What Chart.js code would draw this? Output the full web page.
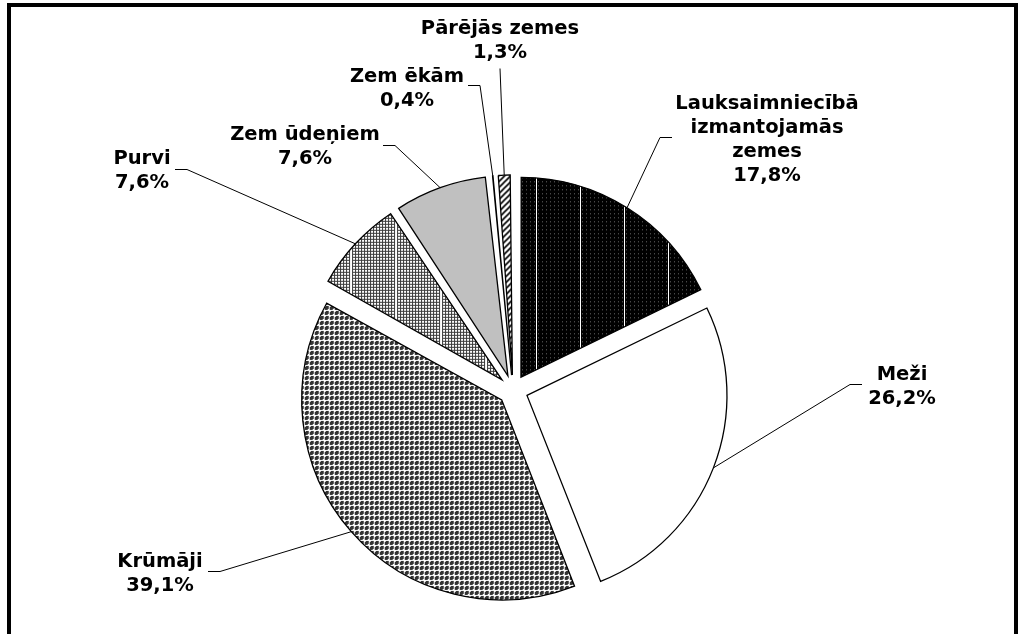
<!DOCTYPE html>
<html>
<head>
<meta charset="utf-8">
<script src="https://cdn.jsdelivr.net/npm/chart.js@4/dist/chart.umd.min.js"></script>
<style>
  body { margin: 0; background: #fff; }
  #wrap { position: relative; width: 1025px; height: 634px; overflow: hidden; }
  #frame { position: absolute; left: 7px; top: 3px; width: 1011px; height: 700px; border: 4px solid #000; box-sizing: border-box; }
  #pie { position: absolute; left: 0; top: 0; }
</style>
</head>
<body>
<div id="wrap">
  <div id="frame"></div>
  <canvas id="pie" width="1025" height="634"></canvas>
</div>
<script>
// kategorijas (rindās sadalīti nosaukumi)
var categories = [
  ['Lauksaimniecībā', 'izmantojamās', 'zemes'],
  ['Meži'],
  ['Krūmāji'],
  ['Purvi'],
  ['Zem ūdeņiem'],
  ['Zem ēkām'],
  ['Pārējās zemes']
];

// platības daļa, %
var shares = [17.8, 26.2, 39.1, 7.6, 7.6, 0.4, 1.3];

// etiķešu novietojums: teksta centrs, pirmās rindas y, līnijas sākums un lūzuma punkts
var labelPos = [
  { x: 767, y: 102, from: [672, 137], elbow: [660, 137] },
  { x: 902, y: 373, from: [862, 384], elbow: [850, 384] },
  { x: 160, y: 560, from: [208, 571], elbow: [220, 571] },
  { x: 142, y: 157, from: [175, 169], elbow: [187, 169] },
  { x: 305, y: 133, from: [383, 145], elbow: [395, 145] },
  { x: 407, y: 75,  from: [468, 85],  elbow: [480, 85] },
  { x: 500, y: 27,  from: [500, 68],  elbow: [500, 68] }
];

var RADIUS = 200;
var EXPLODE = 15;       // cik pikseļus izvirzīts katrs sektors
var FONT_SIZE = 19.5;
var LINE_H = 24;

// rakstu flīzes
function makeTile(w, h, draw) {
  var c = document.createElement('canvas');
  c.width = w; c.height = h;
  var t = c.getContext('2d');
  draw(t, w, h);
  return c;
}

var canvas = document.getElementById('pie');
var ctx = canvas.getContext('2d');

// melns ar pelēkiem punktiem un baltām svītrām
var patAgri = ctx.createPattern(makeTile(44, 4, function (t, w, h) {
  t.fillStyle = '#000'; t.fillRect(0, 0, w, h);
  t.fillStyle = '#6a6a6a';
  for (var x = 2; x < w; x += 4) t.fillRect(x, 2, 1, 1);
  t.fillStyle = '#fff'; t.fillRect(0, 0, 1, h);
}), 'repeat');

// rupjš rūtojums
var patShrub = ctx.createPattern(makeTile(45, 5, function (t, w, h) {
  t.fillStyle = '#fff'; t.fillRect(0, 0, w, h);
  t.fillStyle = '#333';
  for (var x = 0; x < w; x += 5) {
    t.fillRect(x + 1, 1, 4, 4);
  }
  t.fillStyle = '#fff';
  for (var x2 = 0; x2 < w; x2 += 5) {
    t.fillRect(x2 + 1, 1, 1, 1);
    t.fillRect(x2 + 4, 4, 1, 1);
  }
  t.fillRect(0, 0, 1, h);
}), 'repeat');

// smalks režģis
var patBog = ctx.createPattern(makeTile(45, 3, function (t, w, h) {
  t.fillStyle = '#fff'; t.fillRect(0, 0, w, h);
  t.fillStyle = '#3a3a3a';
  t.fillRect(0, 0, w, 1);
  for (var x = 0; x < w; x += 3) t.fillRect(x, 0, 1, h);
  t.fillStyle = '#fff'; t.fillRect(1, 0, 2, h);
}), 'repeat');

// diagonāla svītrojums
var patOther = ctx.createPattern(makeTile(6, 6, function (t, w, h) {
  t.fillStyle = '#fff'; t.fillRect(0, 0, w, h);
  t.strokeStyle = '#000'; t.lineWidth = 1.6;
  t.beginPath();
  t.moveTo(-1, 7); t.lineTo(7, -1);
  t.moveTo(-4, 4); t.lineTo(4, -4);
  t.moveTo(2, 10); t.lineTo(10, 2);
  t.stroke();
}), 'repeat');

var fills = [patAgri, '#ffffff', patShrub, patBog, '#c0c0c0', '#000000', patOther];

// Chart.js palielina mazo sektoru rādiusu, ja ir offset; to kompensējam
var radiusFix = {
  id: 'radiusFix',
  afterDatasetUpdate: function (chart, args) {
    var meta = chart.getDatasetMeta(args.index);
    meta.data.forEach(function (arc) {
      var fix = 1 - Math.sin(Math.min(Math.PI, arc.circumference));
      arc.outerRadius = RADIUS - EXPLODE * fix;
    });
  }
};

// etiķetes ar norādes līnijām
var sliceLabels = {
  id: 'sliceLabels',
  afterDraw: function (chart) {
    var c = chart.ctx;
    var meta = chart.getDatasetMeta(0);
    c.save();
    c.strokeStyle = '#000';
    c.lineWidth = 1;
    c.fillStyle = '#000';
    c.font = 'bold ' + FONT_SIZE + 'px "DejaVu Sans", Verdana, sans-serif';
    c.textAlign = 'center';
    c.textBaseline = 'alphabetic';
    meta.data.forEach(function (arc, i) {
      var mid = (arc.startAngle + arc.endAngle) / 2;
      var r = RADIUS + EXPLODE;
      var ax = arc.x + Math.cos(mid) * r;
      var ay = arc.y + Math.sin(mid) * r;
      var p = labelPos[i];
      c.beginPath();
      c.moveTo(p.from[0], p.from[1] + 0.5);
      c.lineTo(p.elbow[0], p.elbow[1] + 0.5);
      c.lineTo(ax, ay);
      c.stroke();
      var lines = categories[i].concat([shares[i].toFixed(1).replace('.', ',') + '%']);
      lines.forEach(function (txt, k) {
        c.fillText(txt, p.x, p.y + k * LINE_H + 7);
      });
    });
    c.restore();
  }
};

var chart = new Chart(ctx, {
  type: 'pie',
  data: {
    labels: categories.map(function (l) { return l.join(' '); }),
    datasets: [{
      data: shares,
      backgroundColor: fills,
      borderColor: '#000',
      borderWidth: 1.3,
      borderJoinStyle: 'miter',
      offset: EXPLODE * 4
    }]
  },
  options: {
    responsive: false,
    devicePixelRatio: 1,
    animation: false,
    radius: RADIUS,
    layout: { padding: { left: 20, right: 19, top: 160, bottom: 14 } },
    plugins: {
      legend: { display: false },
      tooltip: { enabled: false }
    }
  },
  plugins: [radiusFix, sliceLabels]
});
</script>
</body>
</html>
